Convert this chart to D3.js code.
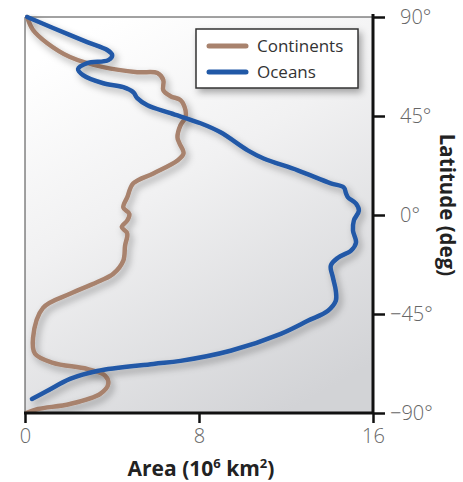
<!DOCTYPE html>
<html>
<head>
<meta charset="utf-8">
<script src="https://cdn.jsdelivr.net/npm/d3@7"></script>
<style>
  html, body { margin: 0; padding: 0; background: #fff; }
  svg { display: block; }
</style>
</head>
<body>
<svg id="chart" width="463" height="482"></svg>
<script>
// Zonal distribution of land and ocean area by latitude (area in 10^6 km^2)
const continentLat = [90, 84.1, 78.2, 71.8, 67.2, 64.9, 64.5, 61.3, 56.7, 54.0, 52.2, 47.6, 44.4, 40.8, 35.3, 32.6, 28.0, 24.8, 18.9, 14.4, 8.0, 3.4, 0.5, -2.5, -5.5, -8.4, -14, -20.7, -26.7, -29.9, -35.8, -42.2, -55.8, -63.1, -67.2, -70.0, -73.1, -76.8, -81.3, -85.9, -88.2, -90];
const continentArea = [0.1, 0.37, 1.01, 2.07, 3.6, 5.16, 6.09, 6.36, 6.36, 6.69, 7.15, 7.38, 7.38, 7.15, 7.01, 7.1, 7.29, 7.01, 5.9, 4.98, 4.7, 4.52, 4.8, 4.7, 4.45, 4.7, 4.6, 4.52, 4.06, 3.46, 2.07, 0.83, 0.37, 0.46, 1.29, 2.86, 3.69, 3.83, 3.46, 2.07, 0.6, 0.05];

const oceanLat = [90, 85.0, 78.6, 75.0, 72.7, 70.4, 69.0, 66.3, 63.6, 59.9, 58.1, 55.8, 53.1, 49.9, 46.3, 41.7, 37.6, 29.4, 25.7, 20.3, 14.4, 12.5, 9.8, 8.0, 5.2, 2.0, -2.5, -7.1, -12.5, -16.2, -19.4, -23.0, -28.5, -34.4, -39.0, -43.5, -48.1, -54.0, -61.7, -66.3, -67.7, -70.9, -74.5, -80.0, -83.6];
const oceanArea = [0.1, 1.29, 2.86, 3.78, 4.01, 3.83, 2.86, 2.44, 2.67, 3.6, 4.52, 4.98, 5.16, 5.63, 6.69, 8.07, 8.99, 10.24, 10.97, 12.54, 14.06, 14.66, 14.76, 14.85, 15.22, 15.35, 15.12, 15.08, 15.22, 14.99, 14.39, 14.06, 14.16, 14.29, 14.29, 13.93, 13.0, 11.76, 9.45, 7.15, 5.9, 3.32, 2.07, 1.01, 0.32];

const seriesNames = ["Continents", "Oceans"];
const seriesColors = ["#a8826d", "#2159a7"];

const areaTicks = [0, 8, 16];
const latTicks = [90, 45, 0, -45, -90];

const svg = d3.select("#chart");
const plotLeft = 25, plotRight = 373, plotTop = 17, plotBottom = 413;

const x = d3.scaleLinear().domain([0, 16]).range([plotLeft, plotRight]);
const y = d3.scaleLinear().domain([-90, 90]).range([plotBottom, plotTop]);

const defs = svg.append("defs");
const grad = defs.append("linearGradient")
  .attr("id", "bg").attr("x1", 0.25).attr("y1", 0).attr("x2", 0.75).attr("y2", 1);
grad.append("stop").attr("offset", "0%").attr("stop-color", "#ffffff");
grad.append("stop").attr("offset", "40%").attr("stop-color", "#f1f1f2");
grad.append("stop").attr("offset", "100%").attr("stop-color", "#d2d3d6");

const shadow = defs.append("filter").attr("id", "shadow")
  .attr("x", "-20%").attr("y", "-20%").attr("width", "140%").attr("height", "140%");
shadow.append("feDropShadow").attr("dx", 3).attr("dy", 4)
  .attr("stdDeviation", 3.5).attr("flood-color", "#000").attr("flood-opacity", 0.32);

// plot background
svg.append("rect")
  .attr("x", plotLeft).attr("y", plotTop)
  .attr("width", plotRight - plotLeft).attr("height", plotBottom - plotTop)
  .attr("fill", "url(#bg)");

// thin frame on top and left
svg.append("path")
  .attr("d", `M${plotLeft},${plotBottom}V${plotTop}H${plotRight}`)
  .attr("fill", "none").attr("stroke", "#444").attr("stroke-width", 1);

const clip = defs.append("clipPath").attr("id", "plotclip");
clip.append("rect").attr("x", plotLeft).attr("y", plotTop - 3)
  .attr("width", plotRight - plotLeft).attr("height", plotBottom - plotTop + 3);

const line = d3.line()
  .x(d => x(d[1]))
  .y(d => y(d[0]))
  .curve(d3.curveCatmullRom.alpha(0.5));

const series = [
  d3.zip(continentLat, continentArea),
  d3.zip(oceanLat, oceanArea)
];

const curves = svg.append("g").attr("clip-path", "url(#plotclip)");
series.forEach((pts, i) => {
  curves.append("path")
    .datum(pts)
    .attr("d", line)
    .attr("fill", "none")
    .attr("stroke", seriesColors[i])
    .attr("stroke-width", 4.5)
    .attr("stroke-linecap", "round")
    .attr("stroke-linejoin", "round")
    .attr("filter", "url(#shadow)");
});

const labelFont = "'Open Sans', 'DejaVu Sans', sans-serif";

// bottom axis
const xAxis = svg.append("g")
  .attr("transform", `translate(0,${plotBottom})`)
  .call(d3.axisBottom(x).tickValues(areaTicks).tickSize(10).tickPadding(6).tickFormat(d3.format("d")));
xAxis.select(".domain").attr("stroke", "#111").attr("stroke-width", 3)
  .attr("d", `M${plotLeft - 1},0H${plotRight + 1}`);
xAxis.selectAll(".tick line").attr("stroke", "#111").attr("stroke-width", 2.5);
xAxis.selectAll(".tick text")
  .attr("font-family", labelFont).attr("font-weight", 300)
  .attr("font-size", 20).attr("fill", "#666");

// right axis
const yAxis = svg.append("g")
  .attr("transform", `translate(${plotRight},0)`)
  .call(d3.axisRight(y).tickValues(latTicks).tickSize(12).tickPadding(15)
    .tickFormat(d => (d < 0 ? "\u2212" + Math.abs(d) : d) + "°"));
yAxis.select(".domain").attr("stroke", "#111").attr("stroke-width", 3)
  .attr("d", `M0,${plotTop - 3}V${plotBottom + 1}`);
yAxis.selectAll(".tick line").attr("stroke", "#111").attr("stroke-width", 2.5);
yAxis.selectAll(".tick text")
  .attr("font-family", labelFont).attr("font-weight", 300)
  .attr("font-size", 20).attr("fill", "#666")
  .attr("x", d => d < 0 ? 17 : 27);

// axis titles
svg.append("text")
  .attr("x", 201).attr("y", 476)
  .attr("text-anchor", "middle")
  .attr("font-family", labelFont).attr("font-weight", 700)
  .attr("font-size", 21).attr("fill", "#222")
  .call(t => {
    t.append("tspan").text("Area (10");
    t.append("tspan").attr("dy", -8).attr("font-size", 13).text("6");
    t.append("tspan").attr("dy", 8).text(" km");
    t.append("tspan").attr("dy", -8).attr("font-size", 13).text("2");
    t.append("tspan").attr("dy", 8).text(")");
  });

svg.append("text")
  .attr("transform", "translate(440,205) rotate(90)")
  .attr("text-anchor", "middle")
  .attr("font-family", labelFont).attr("font-weight", 700)
  .attr("font-size", 20.5).attr("fill", "#222")
  .text("Latitude (deg)");

// legend
const legend = svg.append("g");
legend.append("rect")
  .attr("x", 196).attr("y", 29).attr("width", 162).attr("height", 59)
  .attr("fill", "#fff").attr("stroke", "#333").attr("stroke-width", 1.5)
  .attr("filter", "url(#shadow)");
seriesNames.forEach((name, i) => {
  const ly = 46 + i * 26;
  legend.append("line")
    .attr("x1", 209).attr("x2", 246).attr("y1", ly).attr("y2", ly)
    .attr("stroke", seriesColors[i]).attr("stroke-width", 5)
    .attr("stroke-linecap", "round");
  legend.append("text")
    .attr("x", 257).attr("y", ly).attr("dy", "0.35em")
    .attr("font-family", labelFont).attr("font-size", 17).attr("fill", "#333")
    .text(name);
});
</script>
</body>
</html>
